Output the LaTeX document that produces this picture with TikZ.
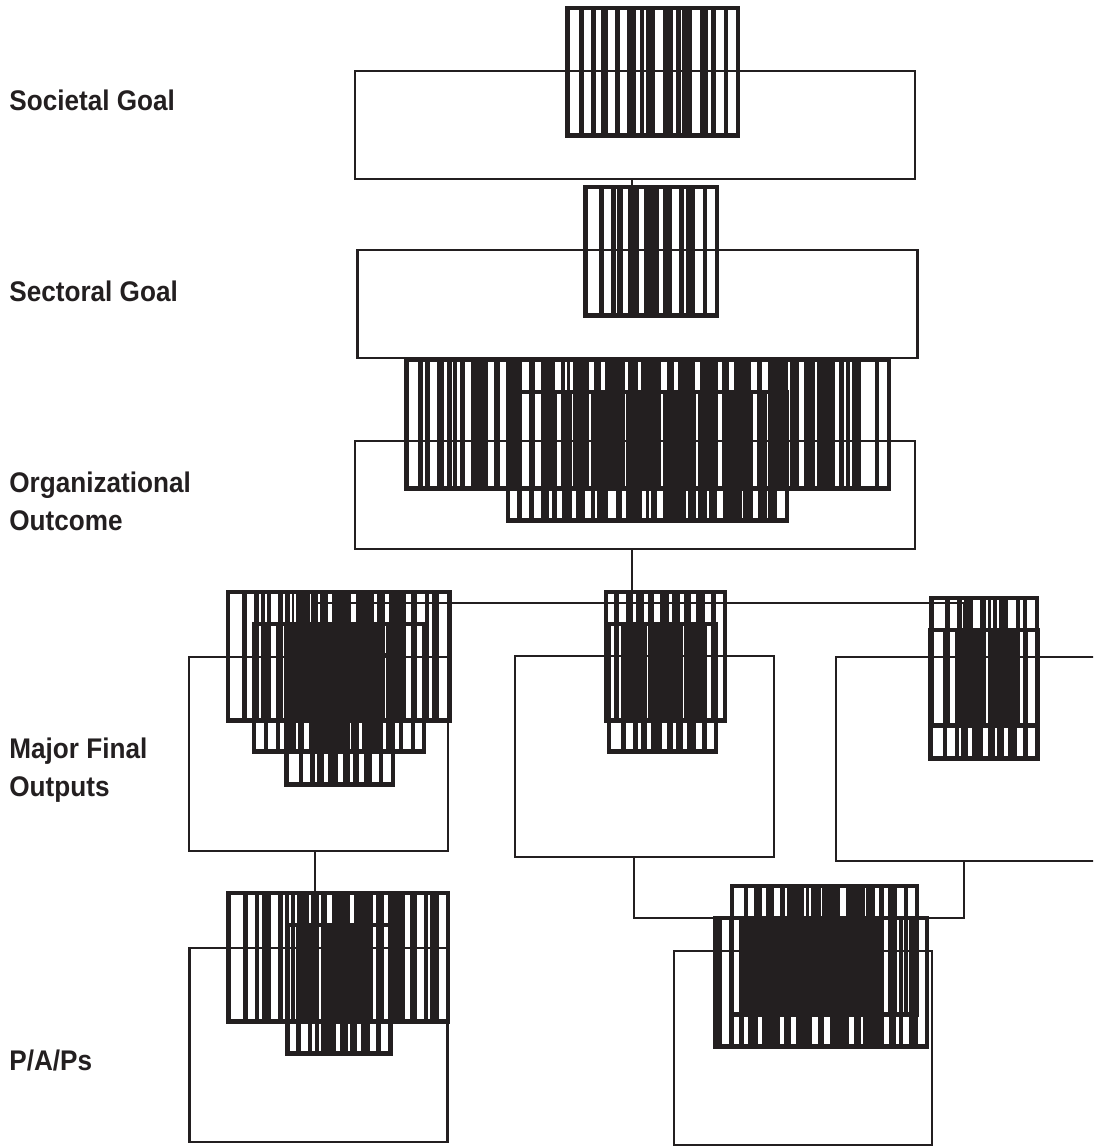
\documentclass[tikz,border=0pt]{standalone}
\usepackage{fontspec}
\setmainfont[FakeStretch=0.92]{Liberation Sans}
\definecolor{ink}{HTML}{231F20}
% block of dark bars: left, top, right, bottom, then the gaps between the bars
\newcommand{\barblock}[5]{%
    \fill[ink] (#1,#2) rectangle (#3,#2+4.3);
    \fill[ink] (#1,#4-5.2) rectangle (#3,#4);
    \xdef\lastx{#1}
    \foreach \a/\b in {#5} {
        \fill[ink] (\lastx,#2) rectangle (\a,#4);
        \xdef\lastx{\b}
    }
    \fill[ink] (\lastx,#2) rectangle (#3,#4);
}
\begin{document}
\begin{tikzpicture}[x=0.5pt, y=-0.5pt,
    outbox/.style={draw=ink, line width=1.3pt, inner sep=0pt, outer sep=0pt},
    link/.style={draw=ink, line width=1.3pt},
    rowlabel/.style={anchor=west, align=left, inner sep=0pt, text=ink, font=\bfseries\fontsize{14.2}{19}\selectfont}]

    \useasboundingbox (0,0) rectangle (1093,1146);
    \clip (0,0) rectangle (1093,1146);

    % Row labels
    \node[rowlabel] (lblsocietal) at (9,100) {Societal Goal};
    \node[rowlabel] (lblsectoral) at (9,291) {Sectoral Goal};
    \node[rowlabel] (lblorg) at (9,501) {Organizational\\Outcome};
    \node[rowlabel] (lblmfo) at (9,770) {Major Final\\Outputs};
    \node[rowlabel] (lblpap) at (9,1060) {P/A/Ps};

    % Boxes
    \node[outbox, minimum width=280pt, minimum height=54pt] (societal) at (635,125) {};
    \node[outbox, minimum width=280pt, minimum height=54pt] (sectoral) at (637.5,304) {};
    \node[outbox, minimum width=280pt, minimum height=54pt] (orgoutcome) at (635,495) {};
    \node[outbox, minimum width=129.5pt, minimum height=97pt] (mfoleft) at (318.5,754) {};
    \node[outbox, minimum width=129.5pt, minimum height=100.5pt] (mfomid) at (644.5,756.5) {};
    \node[outbox, minimum width=140pt, minimum height=102pt] (mforight) at (976,759) {};
    \node[outbox, minimum width=129pt, minimum height=97pt] (papleft) at (318.5,1045) {};
    \node[outbox, minimum width=129pt, minimum height=97pt] (papright) at (803,1048) {};

    % Connectors
    \coordinate (trunk) at (632,603);
    \coordinate (dropleft) at (315,603);
    \coordinate (dropright) at (964,603);
    \coordinate (joinleft) at (634,918);
    \coordinate (joinright) at (964,918);
    \draw[link] (societal.south -| trunk) -- (sectoral.north -| trunk);
    \draw[link] (sectoral.south -| trunk) -- (orgoutcome.north -| trunk);
    \draw[link] (orgoutcome.south -| trunk) -- (mfomid.north -| trunk);
    \draw[link] (mfoleft.north -| dropleft) -- (dropleft) -- (dropright) -- (mforight.north -| dropright);
    \draw[link] (mfoleft.south -| dropleft) -- (papleft.north -| dropleft);
    \draw[link] (mfomid.south -| joinleft) -- (joinleft) -- (joinright) -- (mforight.south -| joinright);
    \draw[link] (papright.north) -- (papright.north |- joinleft);

    % Societal and sectoral
    \barblock{565}{6}{740}{138}{569.6/579.4, 583.9/591.4, 596.3/600.8, 608/614.7, 619.6/626.8, 636.2/640, 644.1/646, 655.4/662.9, 672.7/676.1, 680.6/682.1, 691.9/699.8, 708.1/710.7, 715.6/723.9, 728/735.9}
    \barblock{583}{185}{719}{318}{587.6/598.9, 603.5/611, 615.9/616.6, 623/627.9, 639.2/644.1, 659.2/663.3, 672.3/679.1, 684.4/686.3, 694.5/703.2, 707.3/715.2}

    % Organizational outcome
    \barblock{404}{358}{891}{491}{408.5/417.9, 422.8/425.1, 429.6/436.7, 443.9/447.3, 451.8/452.9, 457.4/459.7, 465.3/471, 487.5/493.6, 499.6/505.6, 521.8/529, 535.4/541, 555.3/561, 565.1/567.3, 570.4/572.6, 589.2/593.7, 600.5/605.4, 625.3/628.3, 637.7/640.7, 661.4/666.7, 673.5/677.6, 695.3/700.2, 717.9/722, 729.2/734.1, 750.7/756.7, 762.3/768, 788.3/789.8, 798.5/803.7, 815/817.3, 834.6/839.1, 844.4/846.2, 850/851.5, 861.3/874.9, 879.4/886.9}
    \barblock{505.6}{390}{789}{522.7}{510.1/516.5, 521.8/529, 533.5/541.4, 548.9/552.3, 557.2/561.7, 571.9/576.4, 585/591.1, 595.2/597.1, 607.6/615.9, 621.5/626.4, 642.3/645.6, 648.7/650.9, 657.3/662.6, 685.5/688.2, 695.7/698.3, 706.6/708.5, 717.2/722.8, 741.6/743.1, 753.3/757.8, 767.2/768.3, 777/784.5}

    % Major final outputs, left
    \barblock{225.7}{589.7}{451.7}{722.7}{230/242.3, 247/254, 258.7/261.3, 265/267.3, 270.7/277.7, 283/284.7, 289.7/292, 294/296.3, 310/311, 318.3/320.3, 327.7/332, 351/355.7, 373.7/377, 385.3/389.3, 406/411, 417.3/425, 429.3/431.7, 439.3/447.3}
    \barblock{252}{621.7}{426.3}{754.3}{256.3/264, 268.3/275.7, 280/284, 296/297.7, 304/309, 350/351, 359.3/362.3, 383.3/386, 395/399.3, 403.3/410.7, 415/421.7}
    \barblock{284}{653}{395.3}{786.7}{288.7/298.7, 303/310.3, 314.7/317.3, 324/328, 338.3/343.3, 350/353, 359.3/363.7, 372.3/379, 383.3/391.3}

    % Major final outputs, middle
    \barblock{604}{590}{727}{722.7}{608.3/614.3, 619/625.7, 632.7/636.3, 644.3/648, 654.3/660.3, 669.3/671.7, 679.7/684, 691.3/695.7, 704.7/710.7, 715.7/722.7}
    \barblock{606.7}{621.7}{718.3}{754.3}{611/621, 625.7/633.3, 638/640.7, 647.3/651, 661.7/666.7, 673.3/675.7, 682.7/687, 695.7/702.3, 706.7/714}

    % Major final outputs, right
    \barblock{929.3}{595.7}{1039.3}{728.3}{934.3/945, 950/957.3, 961.7/964, 972.7/980, 985.7/988.3, 991.3/993.3, 997.3/999, 1008.3/1015.7, 1020/1022.7, 1027.3/1035}
    \barblock{928.3}{627.7}{1039.7}{760.7}{932.7/942.7, 947.3/955, 959.3/961.3, 968.3/972.3, 983.3/988.3, 995/997.3, 1004/1008, 1017.3/1023.3, 1028/1035.3}

    % P/A/Ps, left
    \barblock{226.3}{890.7}{450.3}{1023.7}{231/242.7, 247.7/254.7, 259.3/262, 271.3/278.3, 283.3/285, 289.3/291, 295.3/296.7, 309.3/310.7, 318.7/320.7, 326.7/332, 350.3/354.3, 373/376.3, 384.3/388, 405.3/410, 416.7/423.7, 428.3/430, 438.7/445.7}
    \barblock{285.3}{922.7}{392.7}{1055.7}{290/296, 300.7/307.7, 312.3/314.7, 319/321, 336/340.3, 347.7/350.3, 357/361, 370/376, 380.7/388.3}

    % P/A/Ps, right
    \barblock{730}{884}{919.3}{1016.7}{734.3/743.7, 748.3/754, 762/766, 774/779.7, 785/787, 804/806, 809.3/811, 821/822.3, 840.3/846, 864.7/866.3, 875.3/879.3, 884/888, 896.7/903.7, 908.3/915.3}
    \barblock{712.7}{916}{929}{1048.7}{721.7/729.3, 733.7/739.3, 744.3/748.3, 757.7/762, 780/784.3, 791.3/795.7, 812.3/818, 824/830, 849/853.7, 860.7/863.3, 884.3/888.7, 896.3/898.7, 903.3/909.3, 918.3/925}
\end{tikzpicture}
\end{document}
